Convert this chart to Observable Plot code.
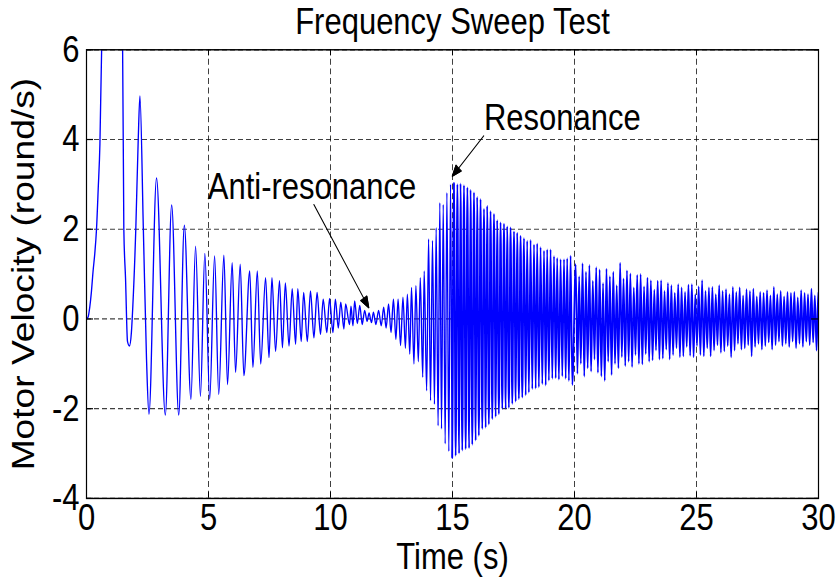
<!DOCTYPE html>
<html>
<head>
<meta charset="utf-8">
<script src="https://cdn.jsdelivr.net/npm/d3@7"></script>
<script src="https://cdn.jsdelivr.net/npm/@observablehq/plot@0.6"></script>
<style>
  html, body { margin: 0; padding: 0; background: #fff; }
  #chart svg { display: block; }
</style>
</head>
<body>
<div id="chart"></div>
<script>
// ---------- tick labels ----------
const xTicks = [0, 5, 10, 15, 20, 25, 30];
const yTicks = [-4, -2, 0, 2, 4, 6];

// ---------- texts ----------
const titleText = "Frequency Sweep Test";
const xLabel = "Time (s)";
const yLabel = "Motor Velocity (round/s)";

// ---------- initial transient (time s, velocity round/s) ----------
const startT = [0, 0.07, 0.13, 0.20, 0.27, 0.34, 0.41, 0.48, 0.55, 0.62, 0.80, 1.05, 1.30, 1.48, 1.53, 1.60, 1.68, 1.76, 1.84, 1.90, 2.02, 2.12, 2.19, 2.33, 2.46];
const startV = [0, 0.05, 0.25, 0.60, 1.07, 1.46, 2.00, 2.90, 3.90, 6.00, 7.80, 8.50, 7.80, 6.00, 2.00, 0.90, -0.50, -0.60, -0.30, 0.30, 2.00, 4.00, 4.97, 2.00, -0.90];

// ---------- oscillation peaks (time s, velocity) ----------
const peakT = [
  2.87, 3.49, 4.01, 4.47, 4.85, 5.25, 5.63, 5.97, 6.30, 6.69, 7.00, 7.34, 7.60, 7.91, 8.15, 8.43, 8.66, 8.90, 9.18, 9.45,
  9.70, 9.96, 10.20, 10.42, 10.62, 10.84, 10.99, 11.20, 11.40, 11.58, 11.76, 11.97, 12.18, 12.38, 12.58, 12.77, 12.97, 13.15, 13.32, 13.50,
  13.68, 13.84, 14.02, 14.18, 14.33, 14.48, 14.62, 14.77, 14.92,
  15.06, 15.20, 15.33, 15.47, 15.61, 15.74, 15.88, 16.01, 16.15, 16.29, 16.42, 16.56, 16.70, 16.83, 16.97, 17.11, 17.24, 17.38, 17.52, 17.65,
  17.79, 17.93, 18.06, 18.20, 18.34, 18.47, 18.61, 18.75, 18.88, 19.02, 19.16, 19.29, 19.43, 19.57, 19.70, 19.84,
  20.05, 20.19, 20.33, 20.47, 20.61, 20.75, 20.89, 21.03, 21.17, 21.31, 21.45, 21.59, 21.73, 21.87, 22.01, 22.15, 22.29, 22.43, 22.57, 22.71,
  22.85, 22.99, 23.13, 23.27, 23.41, 23.55, 23.69, 23.83, 23.97, 24.11, 24.25, 24.39, 24.53, 24.67, 24.81, 24.95, 25.09, 25.23, 25.37, 25.51,
  25.65, 25.79, 25.93, 26.07, 26.21, 26.35, 26.49, 26.63, 26.77, 26.91, 27.05, 27.19, 27.33, 27.47, 27.61, 27.75, 27.89, 28.03, 28.17, 28.31,
  28.45, 28.59, 28.73, 28.87, 29.01, 29.15, 29.29, 29.43, 29.57, 29.71, 29.85, 29.99
];
const peakV = [
  3.14, 2.54, 2.09, 1.62, 1.46, 1.40, 1.42, 1.25, 1.22, 1.07, 1.07, 0.92, 0.92, 0.85, 0.80, 0.67, 0.67, 0.59, 0.62, 0.59,
  0.44, 0.45, 0.44, 0.37, 0.33, 0.28, 0.40, 0.30, 0.19, 0.13, 0.15, 0.19, 0.26, 0.33, 0.44, 0.44, 0.48, 0.55, 0.70, 0.74,
  0.92, 1.07, 1.78, 1.75, 2.03, 2.59, 2.55, 2.81, 3.00,
  3.03, 3.00, 3.02, 2.98, 2.93, 2.88, 2.82, 2.72, 2.67, 2.45, 2.52, 2.40, 2.34, 2.20, 2.15, 2.12, 2.06, 2.04, 1.95, 1.92,
  1.85, 1.80, 1.74, 1.76, 1.66, 1.68, 1.60, 1.52, 1.55, 1.55, 1.40, 1.36, 1.33, 1.33, 1.35, 1.41,
  1.22, 0.95, 1.24, 1.05, 1.20, 0.85, 1.15, 1.10, 0.80, 1.12, 0.95, 1.05, 0.75, 1.25, 0.90, 1.08, 1.01, 0.70, 0.98, 1.00,
  0.72, 0.92, 0.86, 0.65, 0.85, 0.86, 0.62, 0.80, 0.75, 0.58, 0.77, 0.70, 0.60, 0.76, 0.77, 0.55, 0.72, 0.86, 0.62, 0.70,
  0.71, 0.55, 0.75, 0.62, 0.66, 0.55, 0.71, 0.60, 0.70, 0.52, 0.66, 0.62, 0.67, 0.50, 0.60, 0.58, 0.64, 0.52, 0.71, 0.55,
  0.62, 0.50, 0.60, 0.58, 0.60, 0.48, 0.64, 0.58, 0.55, 0.67, 0.52, 0.60
];

// ---------- oscillation troughs (time s, velocity) ----------
const troughT = [
  2.56, 3.23, 3.78, 4.28, 4.67, 5.05, 5.42, 5.78, 6.11, 6.45, 6.82, 7.14, 7.48, 7.75, 8.03, 8.30, 8.57, 8.80, 9.05, 9.32,
  9.59, 9.85, 10.10, 10.32, 10.55, 10.78, 10.92, 11.10, 11.30, 11.50, 11.68, 11.86, 12.08, 12.28, 12.48, 12.68, 12.87, 13.07, 13.25, 13.42,
  13.60, 13.78, 13.94, 14.10, 14.26, 14.41, 14.55, 14.70, 14.85, 14.99,
  15.13, 15.27, 15.40, 15.54, 15.68, 15.81, 15.95, 16.08, 16.22, 16.36, 16.49, 16.63, 16.77, 16.90, 17.04, 17.18, 17.31, 17.45, 17.59, 17.72,
  17.86, 18.00, 18.13, 18.27, 18.41, 18.54, 18.68, 18.82, 18.95, 19.09, 19.23, 19.36, 19.50, 19.64, 19.77, 19.91,
  20.12, 20.26, 20.40, 20.54, 20.68, 20.82, 20.96, 21.10, 21.24, 21.38, 21.52, 21.66, 21.80, 21.94, 22.08, 22.22, 22.36, 22.50, 22.64, 22.78,
  22.92, 23.06, 23.20, 23.34, 23.48, 23.62, 23.76, 23.90, 24.04, 24.18, 24.32, 24.46, 24.60, 24.74, 24.88, 25.02, 25.16, 25.30, 25.44, 25.58,
  25.72, 25.86, 26.00, 26.14, 26.28, 26.42, 26.56, 26.70, 26.84, 26.98, 27.12, 27.26, 27.40, 27.54, 27.68, 27.82, 27.96, 28.10, 28.24, 28.38,
  28.52, 28.66, 28.80, 28.94, 29.08, 29.22, 29.36, 29.50, 29.64, 29.78, 29.92, 30.06
];
const troughV = [
  -2.12, -2.14, -2.14, -1.79, -1.72, -1.78, -1.68, -1.46, -1.19, -1.26, -1.08, -1.00, -0.86, -0.72, -0.64, -0.60, -0.56, -0.50, -0.50, -0.42,
  -0.34, -0.30, -0.30, -0.20, -0.22, -0.12, -0.15, -0.10, -0.12, -0.05, -0.08, -0.12, -0.15, -0.20, -0.30, -0.45, -0.59, -0.65, -0.78, -1.00,
  -0.95, -1.30, -1.60, -1.82, -1.90, -2.38, -2.45, -2.78, -2.95, -3.09,
  -3.05, -3.00, -2.93, -2.90, -2.88, -2.80, -2.71, -2.60, -2.45, -2.42, -2.35, -2.23, -2.18, -2.12, -2.00, -2.00, -1.98, -1.89, -1.84, -1.78,
  -1.75, -1.70, -1.64, -1.56, -1.55, -1.52, -1.45, -1.48, -1.37, -1.33, -1.32, -1.35, -1.28, -1.33, -1.38, -1.47,
  -1.22, -1.00, -1.28, -1.10, -1.17, -0.90, -1.20, -1.28, -1.38, -0.95, -1.25, -1.00, -1.10, -0.85, -1.05, -0.95, -1.07, -0.80, -1.00, -1.01,
  -0.78, -0.95, -0.92, -0.70, -0.90, -0.88, -0.68, -0.90, -0.80, -0.65, -0.85, -0.83, -0.62, -0.82, -0.85, -0.60, -0.80, -0.83, -0.65, -0.83,
  -0.70, -0.58, -0.75, -0.72, -0.60, -0.85, -0.70, -0.55, -0.68, -0.65, -0.58, -0.83, -0.62, -0.55, -0.68, -0.60, -0.52, -0.68, -0.58, -0.50,
  -0.60, -0.55, -0.62, -0.50, -0.65, -0.55, -0.62, -0.50, -0.58, -0.52, -0.70, -0.55
];

// ---------- annotations (data coordinates) ----------
const noteText = ["Resonance", "Anti-resonance"];
const noteT = [19.5, 9.24];
const noteV = [4.48, 2.94];
const arrowFromT = [16.28, 9.32];
const arrowFromV = [4.08, 2.55];
const arrowToT = [14.99, 11.57];
const arrowToV = [3.18, 0.25];

// ---------- build tables ----------
const pts = [];
startT.forEach((t, i) => pts.push({t, v: startV[i]}));
peakT.forEach((t, i) => pts.push({t, v: peakV[i]}));
troughT.forEach((t, i) => pts.push({t, v: troughV[i]}));
pts.sort((a, b) => a.t - b.t);
const ptsSlow = pts.filter(p => p.t <= 15.06);   // sparse part, thin line
const ptsFast = pts.filter(p => p.t >= 14.99);   // dense part, slightly heavier line

const notes = noteText.map((s, i) => ({s, t: noteT[i], v: noteV[i]}));
const arrows = arrowFromT.map((t, i) => ({x1: t, y1: arrowFromV[i], x2: arrowToT[i], y2: arrowToV[i]}));

// drawn at a shorter height, then stretched vertically to the window (as the reference text is tall)
const W = 836, H = 481, OUT_H = 577;
const font = "'Liberation Sans', Arial, Helvetica, sans-serif";

const chart = Plot.plot({
  width: W,
  height: H,
  marginTop: 41,
  marginBottom: 66,
  marginLeft: 86,
  marginRight: 18,
  style: {fontFamily: font, fontSize: "31px", color: "black", background: "white", overflow: "visible"},
  x: {domain: [0, 30], ticks: xTicks, tickFormat: d => String(d), tickSize: 0, tickPadding: 4, label: null},
  y: {domain: [-4, 6], ticks: yTicks, tickFormat: d => String(d), tickSize: 0, tickPadding: 7, label: null},
  marks: [
    Plot.ruleX(xTicks, {stroke: "#000", strokeOpacity: 0.75, strokeWidth: 1, strokeDasharray: "5,3"}),
    Plot.ruleY(yTicks, {stroke: "#000", strokeOpacity: 0.75, strokeWidth: 1, strokeDasharray: "5,3"}),
    Plot.line(ptsSlow, {x: "t", y: "v", stroke: "#0000ff", strokeWidth: 1.35, curve: "monotone-x", clip: true}),
    Plot.line(ptsFast, {x: "t", y: "v", stroke: "#0000ff", strokeWidth: 1.75, curve: "monotone-x", clip: true}),
    // inward ticks on all four sides
    Plot.ruleX(xTicks, {stroke: "#000", insetTop: 369}),
    Plot.ruleX(xTicks, {stroke: "#000", insetBottom: 369}),
    Plot.ruleY(yTicks, {stroke: "#000", insetRight: 725}),
    Plot.ruleY(yTicks, {stroke: "#000", insetLeft: 725}),
    Plot.frame({stroke: "#000", strokeWidth: 1.2}),
    Plot.arrow(arrows, {x1: "x1", y1: "y1", x2: "x2", y2: "y2", stroke: "#000", strokeWidth: 1, headLength: 15, headAngle: 42}),
    Plot.text(notes, {x: "t", y: "v", text: "s", fontSize: 31, fill: "#000"}),
    Plot.text([titleText], {frameAnchor: "top", textAnchor: "middle", lineAnchor: "middle", dy: -23.5, fontSize: 31, fill: "#000"}),
    Plot.text([xLabel], {frameAnchor: "bottom", textAnchor: "middle", lineAnchor: "middle", dy: 48.5, fontSize: 31, fill: "#000"}),
    Plot.text([yLabel], {frameAnchor: "left", textAnchor: "middle", lineAnchor: "middle", dx: -62, rotate: -90, fontSize: 31, fill: "#000"})
  ]
});

// fill the arrow heads (like the reference's solid heads)
d3.select(chart).selectAll('g[aria-label="arrow"] path').each(function () {
  const d = this.getAttribute("d");
  const m = d.lastIndexOf("M");
  if (m <= 0) return;
  const p = document.createElementNS("http://www.w3.org/2000/svg", "path");
  p.setAttribute("d", d.slice(m) + "Z");
  p.setAttribute("fill", "#000");
  p.setAttribute("stroke", "#000");
  this.parentNode.appendChild(p);
});

chart.setAttribute("viewBox", `0 0 ${W} ${H}`);
chart.setAttribute("preserveAspectRatio", "none");
chart.setAttribute("width", W);
chart.setAttribute("height", OUT_H);
chart.style.height = OUT_H + "px";
chart.style.width = W + "px";
chart.style.maxWidth = "none";

document.getElementById("chart").appendChild(chart);
</script>
</body>
</html>
